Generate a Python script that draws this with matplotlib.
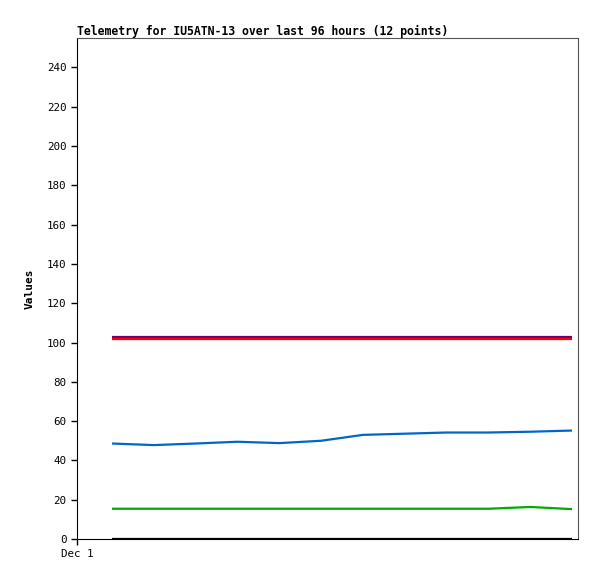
import matplotlib
matplotlib.use("Agg")
import matplotlib.pyplot as plt

title = "Telemetry for IU5ATN-13 over last 96 hours (12 points)"
points = list(range(12))
purple_vals = [102.6] * 12
red_vals = [101.6] * 12
blue_vals = [48.6, 47.8, 48.6, 49.5, 48.8, 50.0, 53.0, 53.6, 54.2, 54.2, 54.6, 55.2]
green_vals = [15.4] * 10 + [16.3, 15.2]
black_vals = [0.0] * 12
y_ticks = list(range(0, 241, 20))
x_tick_label = "Dec 1"

mono = ["DejaVu Sans Mono"]
fig = plt.figure(figsize=(5.97, 5.79), dpi=100)
ax = fig.add_axes([77/597, 1-539/579, (578-77)/597, (539-38)/579])

ax.plot(points, purple_vals, color="#6a0070", lw=1.6, solid_capstyle="butt")
ax.plot(points, red_vals, color="#ff0000", lw=1.6, solid_capstyle="butt")
ax.plot(points, blue_vals, color="#0066cc", lw=1.6, solid_capstyle="butt")
ax.plot(points, green_vals, color="#00aa00", lw=1.6, solid_capstyle="butt")
ax.plot(points, black_vals, color="#000000", lw=1.6, solid_capstyle="butt")

x0 = -35/41.8
ax.set_xlim(x0, 11 + 6/41.8)
ax.set_ylim(0, 255)
ax.set_yticks(y_ticks)
ax.set_yticklabels([str(v) for v in y_ticks], family=mono, fontsize=7.8)
ax.set_xticks([x0])
ax.set_xticklabels([x_tick_label], family=mono, fontsize=7.8)
ax.tick_params(direction="out", length=4, width=1, color="black")

for s in ["top", "right"]:
    ax.spines[s].set_color("#555555")
for s in ["left", "bottom"]:
    ax.spines[s].set_color("black")

ax.set_ylabel("Values", family=mono, fontsize=8, fontweight="bold", labelpad=9)
ax.set_title(title, family=mono, fontsize=8.3, fontweight="bold", loc="left", pad=2)

fig.savefig("out.png", dpi=100)
